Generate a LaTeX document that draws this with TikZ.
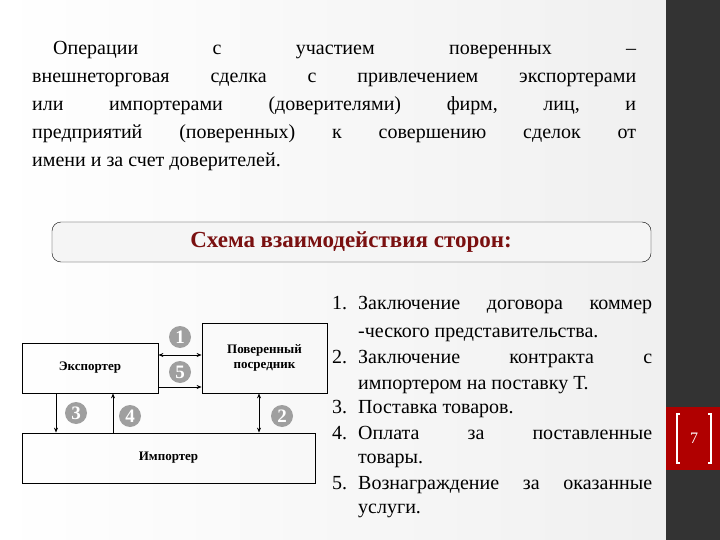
\documentclass[tikz,border=0pt]{standalone}
\usepackage{fontspec}
\setmainfont{Liberation Serif}
\usetikzlibrary{arrows.meta,shadings}
\definecolor{titlered}{HTML}{7A1010}
\definecolor{band}{HTML}{333333}
\definecolor{numred}{HTML}{B00000}
\tikzset{
  boxn/.style={draw,thick,font=\fontsize{13}{15}\selectfont\bfseries,align=center,inner sep=0pt},
  num/.style={circle,fill=gray!75,text=white,minimum size=22pt,inner sep=0pt,font=\fontsize{19}{19}\selectfont\bfseries},
  arr/.style={thick,-{Stealth[length=5pt,width=4pt]}},
  darr/.style={thick,{Stealth[length=5pt,width=4pt]}-{Stealth[length=5pt,width=4pt]}},
  txt/.style={anchor=base west,inner sep=0pt,font=\fontsize{20}{24}\selectfont},
}
\begin{document}
\begin{tikzpicture}[x=1pt,y=-1pt]
\useasboundingbox (0,0) rectangle (720,540);
\shade[left color=white,right color=white!88!gray] (0,0) rectangle (666,540);
\fill[band] (666,0) rectangle (720,540);
\fill[numred] (666,407) rectangle (720,470);
\draw[white,line width=1.2pt] (680,414) -- (677,414) -- (677,463) -- (680,463);
\draw[white,line width=1.2pt] (708,414) -- (711,414) -- (711,463) -- (708,463);
\node[text=white,font=\fontsize{16}{16}\selectfont] (pg) at (694,438) {7};

% top paragraph
\node[txt,text width=583] (l1) at (53,55) {Операции\hfill с\hfill участием\hfill поверенных\hfill –};
\node[txt,text width=604] (l2) at (32,83) {внешнеторговая\hfill сделка\hfill с\hfill привлечением\hfill экспортерами};
\node[txt,text width=604] (l3) at (32,111) {или\hfill импортерами\hfill (доверителями)\hfill фирм,\hfill лиц,\hfill и};
\node[txt,text width=604] (l4) at (32,139) {предприятий\hfill (поверенных)\hfill к\hfill совершению\hfill сделок\hfill от};
\node[txt] (l5) at (32,167) {имени и за счет доверителей.};

% title
\draw[rounded corners=9pt,fill=gray!8] (52,222) rectangle (651,262);
\node[text=titlered,font=\fontsize{23}{23}\selectfont\bfseries] (title) at (351,242) {Схема взаимодействия сторон:};

% diagram
\node[boxn,minimum width=136pt,minimum height=50pt] (exp) at (90,368) {Экспортер};
\node[boxn,minimum width=125pt,minimum height=70pt] (pos) at (264.5,358) {Поверенный\\посредник};
\node[boxn,minimum width=293pt,minimum height=50pt] (imp) at (168.5,458) {Импортер};
\draw[darr] ([yshift=13pt]exp.east) -- ([yshift=3pt]pos.west);
\draw[arr] ([yshift=-19pt]exp.east) -- ([yshift=-29pt]pos.west);
\draw[arr] ([xshift=-34pt]exp.south) -- ([xshift=-112.5pt]imp.north);
\draw[arr] ([xshift=-55.5pt]imp.north) -- ([xshift=23pt]exp.south);
\draw[darr] ([xshift=-5.5pt]pos.south) -- ([xshift=90.5pt]imp.north);
\node[num] (n1) at (180,337) {1};
\node[num] (n5) at (180,372) {5};
\node[num] (n3) at (76,413) {3};
\node[num] (n4) at (130,416) {4};
\node[num] (n2) at (282,416) {2};

% list
\node[txt] (a1) at (332,309) {1.};
\node[txt,text width=294] (b1) at (358,309) {Заключение\hfill договора\hfill коммер};
\node[txt] (b1b) at (358,337) {-ческого представительства.};
\node[txt] (a2) at (332,363) {2.};
\node[txt,text width=294] (b2) at (358,363) {Заключение\hfill контракта\hfill с};
\node[txt] (b2b) at (358,389) {импортером на поставку Т.};
\node[txt] (a3) at (332,413) {3.};
\node[txt] (b3) at (358,413) {Поставка товаров.};
\node[txt] (a4) at (332,439) {4.};
\node[txt,text width=294] (b4) at (358,439) {Оплата\hfill за\hfill поставленные};
\node[txt] (b4b) at (358,463) {товары.};
\node[txt] (a5) at (332,489) {5.};
\node[txt,text width=294] (b5) at (358,489) {Вознаграждение\hfill за\hfill оказанные};
\node[txt] (b5b) at (358,513) {услуги.};
\end{tikzpicture}
\end{document}
